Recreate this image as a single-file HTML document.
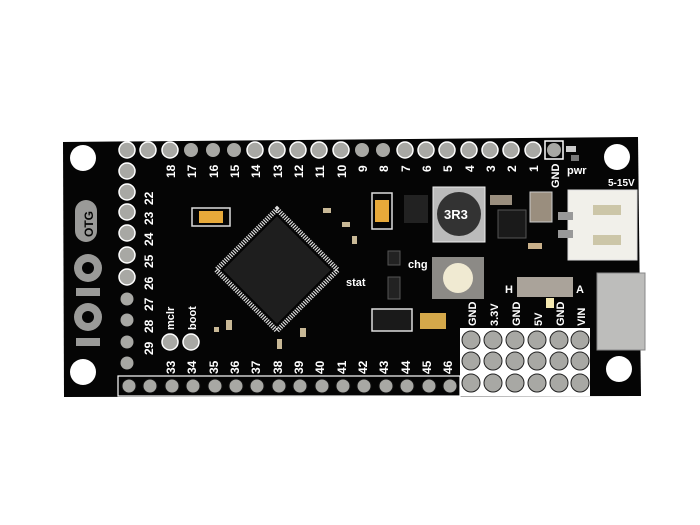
<!DOCTYPE html><html><head><style>body{margin:0;background:#fff}svg{display:block}text{font-family:"Liberation Sans",sans-serif;font-weight:bold;fill:#fff}</style></head><body>
<svg width="700" height="525" viewBox="0 0 700 525" xmlns="http://www.w3.org/2000/svg">
<rect width="700" height="525" fill="#fff"/>
<polygon points="63,142 638,137 641,396 64,397" fill="#050505"/>
<g fill="#fff"><circle cx="83" cy="158" r="13"/><circle cx="83" cy="372" r="13"/><circle cx="617" cy="157" r="13"/><circle cx="619" cy="369" r="13"/></g>
<g fill="#9a9a98">
<rect x="75" y="200" width="22" height="42" rx="11"/>
<circle cx="88" cy="268" r="14"/><rect x="76" y="288" width="24" height="8"/>
<circle cx="88" cy="317" r="14"/><rect x="76" y="338" width="24" height="8"/>
</g>
<circle cx="88" cy="268" r="6" fill="#050505"/><circle cx="88" cy="317" r="6" fill="#050505"/>
<text x="0" y="0" transform="translate(93,237) rotate(-90)" font-size="12" style="fill:#050505">OTG</text>
<g fill="#a8a8a4" stroke="#fff" stroke-width="1.5">
<circle cx="127" cy="150" r="8"/><circle cx="148" cy="150" r="8"/><circle cx="170" cy="150" r="8"/>
<circle cx="191" cy="150" r="7" stroke="none"/><circle cx="213" cy="150" r="7" stroke="none"/><circle cx="234" cy="150" r="7" stroke="none"/>
<circle cx="255" cy="150" r="8"/><circle cx="277" cy="150" r="8"/><circle cx="298" cy="150" r="8"/><circle cx="319" cy="150" r="8"/><circle cx="341" cy="150" r="8"/>
<circle cx="362" cy="150" r="7" stroke="none"/><circle cx="383" cy="150" r="7" stroke="none"/>
<circle cx="405" cy="150" r="8"/><circle cx="426" cy="150" r="8"/><circle cx="447" cy="150" r="8"/><circle cx="469" cy="150" r="8"/><circle cx="490" cy="150" r="8"/><circle cx="511" cy="150" r="8"/><circle cx="533" cy="150" r="8"/>
<rect x="545" y="141" width="18" height="18" fill="none"/><circle cx="554" cy="150" r="7" stroke="none"/>
<circle cx="127" cy="171" r="8"/><circle cx="127" cy="192" r="8"/><circle cx="127" cy="212" r="8"/><circle cx="127" cy="233" r="8"/><circle cx="127" cy="255" r="8"/><circle cx="127" cy="277" r="8"/>
<circle cx="127" cy="299" r="6.5" stroke="none"/><circle cx="127" cy="320" r="6.5" stroke="none"/><circle cx="127" cy="342" r="6.5" stroke="none"/><circle cx="127" cy="363" r="6.5" stroke="none"/>
<circle cx="170" cy="342" r="8"/><circle cx="191" cy="342" r="8"/>
</g>
<g fill="#a8a8a4" stroke="#fff" stroke-width="1.2">
<rect x="118" y="376" width="342" height="20" fill="none"/>
<rect x="460" y="328" width="130" height="68" fill="#fff" stroke="none"/>
</g>
<g fill="#a8a8a4" stroke="#111" stroke-width="1">
<circle cx="129" cy="386" r="7"/><circle cx="150" cy="386" r="7"/><circle cx="172" cy="386" r="7"/><circle cx="193" cy="386" r="7"/><circle cx="215" cy="386" r="7"/><circle cx="236" cy="386" r="7"/><circle cx="257" cy="386" r="7"/><circle cx="279" cy="386" r="7"/><circle cx="300" cy="386" r="7"/><circle cx="322" cy="386" r="7"/><circle cx="343" cy="386" r="7"/><circle cx="364" cy="386" r="7"/><circle cx="386" cy="386" r="7"/><circle cx="407" cy="386" r="7"/><circle cx="429" cy="386" r="7"/><circle cx="450" cy="386" r="7"/>
</g>
<g fill="#a8a8a4" stroke="#222" stroke-width="1">
<circle cx="471" cy="340" r="9"/><circle cx="493" cy="340" r="9"/><circle cx="515" cy="340" r="9"/><circle cx="537" cy="340" r="9"/><circle cx="559" cy="340" r="9"/><circle cx="580" cy="340" r="9"/>
<circle cx="471" cy="361" r="9"/><circle cx="493" cy="361" r="9"/><circle cx="515" cy="361" r="9"/><circle cx="537" cy="361" r="9"/><circle cx="559" cy="361" r="9"/><circle cx="580" cy="361" r="9"/>
<circle cx="471" cy="383" r="9"/><circle cx="493" cy="383" r="9"/><circle cx="515" cy="383" r="9"/><circle cx="537" cy="383" r="9"/><circle cx="559" cy="383" r="9"/><circle cx="580" cy="383" r="9"/>
</g>
<g font-size="12">
<text transform="translate(175,178) rotate(-90)">18</text><text transform="translate(196,178) rotate(-90)">17</text><text transform="translate(218,178) rotate(-90)">16</text><text transform="translate(239,178) rotate(-90)">15</text><text transform="translate(260,178) rotate(-90)">14</text><text transform="translate(282,178) rotate(-90)">13</text><text transform="translate(303,178) rotate(-90)">12</text><text transform="translate(324,178) rotate(-90)">11</text><text transform="translate(346,178) rotate(-90)">10</text><text transform="translate(367,172) rotate(-90)">9</text><text transform="translate(388,172) rotate(-90)">8</text><text transform="translate(410,172) rotate(-90)">7</text><text transform="translate(431,172) rotate(-90)">6</text><text transform="translate(452,172) rotate(-90)">5</text><text transform="translate(474,172) rotate(-90)">4</text><text transform="translate(495,172) rotate(-90)">3</text><text transform="translate(516,172) rotate(-90)">2</text><text transform="translate(538,172) rotate(-90)">1</text>
<text transform="translate(559,188) rotate(-90)" font-size="11">GND</text>
<text transform="translate(153,205) rotate(-90)">22</text><text transform="translate(153,225) rotate(-90)">23</text><text transform="translate(153,246) rotate(-90)">24</text><text transform="translate(153,268) rotate(-90)">25</text><text transform="translate(153,290) rotate(-90)">26</text><text transform="translate(153,311) rotate(-90)">27</text><text transform="translate(153,333) rotate(-90)">28</text><text transform="translate(153,355) rotate(-90)">29</text>
<text transform="translate(174,330) rotate(-90)" font-size="11">mclr</text><text transform="translate(196,330) rotate(-90)" font-size="11">boot</text>
<text transform="translate(175,374) rotate(-90)">33</text><text transform="translate(196,374) rotate(-90)">34</text><text transform="translate(218,374) rotate(-90)">35</text><text transform="translate(239,374) rotate(-90)">36</text><text transform="translate(260,374) rotate(-90)">37</text><text transform="translate(282,374) rotate(-90)">38</text><text transform="translate(303,374) rotate(-90)">39</text><text transform="translate(324,374) rotate(-90)">40</text><text transform="translate(346,374) rotate(-90)">41</text><text transform="translate(367,374) rotate(-90)">42</text><text transform="translate(388,374) rotate(-90)">43</text><text transform="translate(410,374) rotate(-90)">44</text><text transform="translate(431,374) rotate(-90)">45</text><text transform="translate(452,374) rotate(-90)">46</text>
<g font-size="11"><text transform="translate(476,326) rotate(-90)">GND</text><text transform="translate(498,326) rotate(-90)">3.3V</text><text transform="translate(520,326) rotate(-90)">GND</text><text transform="translate(542,326) rotate(-90)">5V</text><text transform="translate(564,326) rotate(-90)">GND</text><text transform="translate(585,326) rotate(-90)">VIN</text></g>
<text x="567" y="174" font-size="11">pwr</text><text x="608" y="186" font-size="10">5-15V</text>
<text x="346" y="286" font-size="11">stat</text><text x="408" y="268" font-size="11">chg</text>
<text x="505" y="293" font-size="11">H</text><text x="576" y="293" font-size="11">A</text>
</g>
<g transform="translate(277,270) rotate(45)">
<rect x="-43" y="-43" width="86" height="86" fill="none" stroke="#ddd" stroke-width="5" stroke-dasharray="1.2 1.2"/>
<rect x="-38" y="-38" width="76" height="76" fill="#1e1e1e"/>
</g>
<rect x="192" y="208" width="38" height="18" fill="none" stroke="#ddd" stroke-width="1.5"/><rect x="199" y="211" width="24" height="12" fill="#e7a93a"/>
<rect x="372" y="193" width="20" height="36" fill="none" stroke="#ddd" stroke-width="1.5"/><rect x="375" y="200" width="14" height="22" fill="#e7a93a"/>
<rect x="404" y="195" width="24" height="28" fill="#222"/>
<rect x="433" y="187" width="52" height="55" fill="#bbb" stroke="#eee"/><circle cx="459" cy="214" r="22" fill="#333"/><text x="444" y="219" font-size="13">3R3</text>
<rect x="490" y="195" width="22" height="10" fill="#9a8e7e"/>
<rect x="498" y="210" width="28" height="28" fill="#1a1a1a" stroke="#555"/>
<rect x="530" y="192" width="22" height="30" fill="#9a8e7e" stroke="#ccc"/>
<rect x="528" y="243" width="14" height="6" fill="#c9b08a"/>
<rect x="568" y="190" width="69" height="70" fill="#f1f0ea" stroke="#ddd"/>
<rect x="593" y="205" width="28" height="10" fill="#ccc6a8"/><rect x="593" y="235" width="28" height="10" fill="#ccc6a8"/>
<rect x="558" y="212" width="15" height="8" fill="#999"/><rect x="558" y="230" width="15" height="8" fill="#999"/>
<rect x="432" y="257" width="52" height="42" fill="#8c8a86"/><circle cx="458" cy="278" r="15" fill="#f0ead2"/>
<rect x="517" y="277" width="56" height="20" fill="#aaa39a"/><rect x="546" y="298" width="8" height="10" fill="#f4e8b0"/>
<rect x="597" y="273" width="48" height="77" fill="#bdbdbb" stroke="#888"/>
<rect x="372" y="309" width="40" height="22" fill="#1a1a1a" stroke="#ddd" stroke-width="1.5"/>
<rect x="420" y="313" width="26" height="16" fill="#d4a84a"/>
<g fill="#c8b896"><rect x="323" y="208" width="8" height="5"/><rect x="342" y="222" width="8" height="5"/><rect x="352" y="236" width="5" height="8"/><rect x="226" y="320" width="6" height="10"/><rect x="277" y="339" width="5" height="10"/><rect x="300" y="328" width="6" height="9"/><rect x="214" y="327" width="5" height="5"/></g>
<rect x="388" y="251" width="12" height="14" fill="#222" stroke="#555"/><rect x="388" y="277" width="12" height="22" fill="#222" stroke="#555"/>
<rect x="566" y="146" width="10" height="6" fill="#ccc"/><rect x="571" y="155" width="8" height="6" fill="#777"/>
</svg>
</body></html>
